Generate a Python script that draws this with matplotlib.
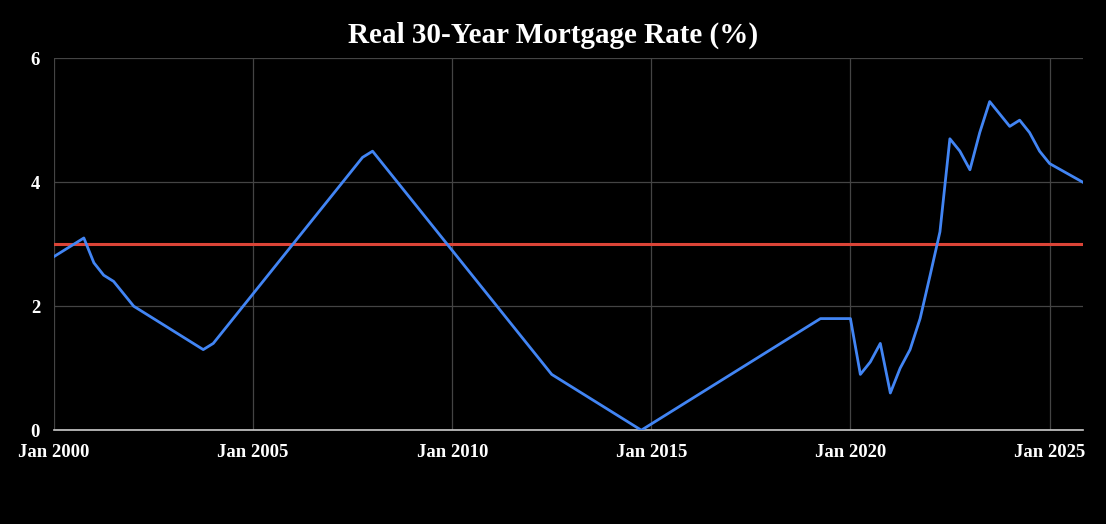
import datetime as dt
import matplotlib
matplotlib.use("Agg")
import matplotlib.pyplot as plt
import matplotlib.dates as mdates

# (year, month) of each observation and the real 30-year mortgage rate (%)
dates = [(2000, 1), (2000, 10), (2001, 1), (2001, 4), (2001, 7), (2002, 1),
         (2003, 10), (2004, 1), (2007, 10), (2008, 1), (2012, 7), (2014, 10),
         (2019, 4), (2020, 1), (2020, 4), (2020, 7), (2020, 10), (2021, 1),
         (2021, 4), (2021, 7), (2021, 10), (2022, 1), (2022, 4), (2022, 7),
         (2022, 10), (2023, 1), (2023, 4), (2023, 7), (2023, 10), (2024, 1),
         (2024, 4), (2024, 7), (2024, 10), (2025, 1), (2025, 11)]
rate = [2.8, 3.1, 2.7, 2.5, 2.4, 2.0,
        1.3, 1.4, 4.4, 4.5, 0.9, 0.0,
        1.8, 1.8, 0.9, 1.1, 1.4, 0.6,
        1.0, 1.3, 1.8, 2.5, 3.2, 4.7,
        4.5, 4.2, 4.8, 5.3, 5.1, 4.9,
        5.0, 4.8, 4.5, 4.3, 4.0]
reference_level = 3.0
tick_years = [2000, 2005, 2010, 2015, 2020, 2025]

x = [dt.date(y, m, 1) for y, m in dates]

plt.rcParams['font.family'] = ['Liberation Serif', 'DejaVu Serif']

fig = plt.figure(figsize=(11.06, 5.24), dpi=100, facecolor='black')
ax = fig.add_axes([0.0488, 0.179, 0.9302, 0.710], facecolor='black')

ax.plot(x, rate, color='#4285f4', linewidth=2, zorder=3)
ax.axhline(reference_level, color='#db4437', linewidth=2.2, zorder=2)

ax.set_ylim(0, 6)
ax.set_yticks([0, 2, 4, 6])
ax.set_xlim(x[0], x[-1])
ax.set_xticks([dt.date(y, 1, 1) for y in tick_years])
ax.xaxis.set_major_formatter(mdates.DateFormatter('Jan %Y'))

ax.grid(True, color='#444444', linewidth=0.9)
ax.set_axisbelow(True)
for side in ['top', 'right', 'left']:
    ax.spines[side].set_visible(False)
ax.spines['bottom'].set_color('#cccccc')
ax.spines['bottom'].set_linewidth(1.2)

ax.tick_params(axis='both', length=0, colors='white', labelsize=13.5)
ax.tick_params(axis='y', pad=10)
ax.tick_params(axis='x', pad=10)
for lbl in ax.get_xticklabels() + ax.get_yticklabels():
    lbl.set_fontweight('bold')

fig.suptitle('Real 30-Year Mortgage Rate (%)', color='white', fontsize=21,
             fontweight='bold', x=0.5, y=0.958)

fig.savefig('out.png', dpi=100, facecolor='black')
